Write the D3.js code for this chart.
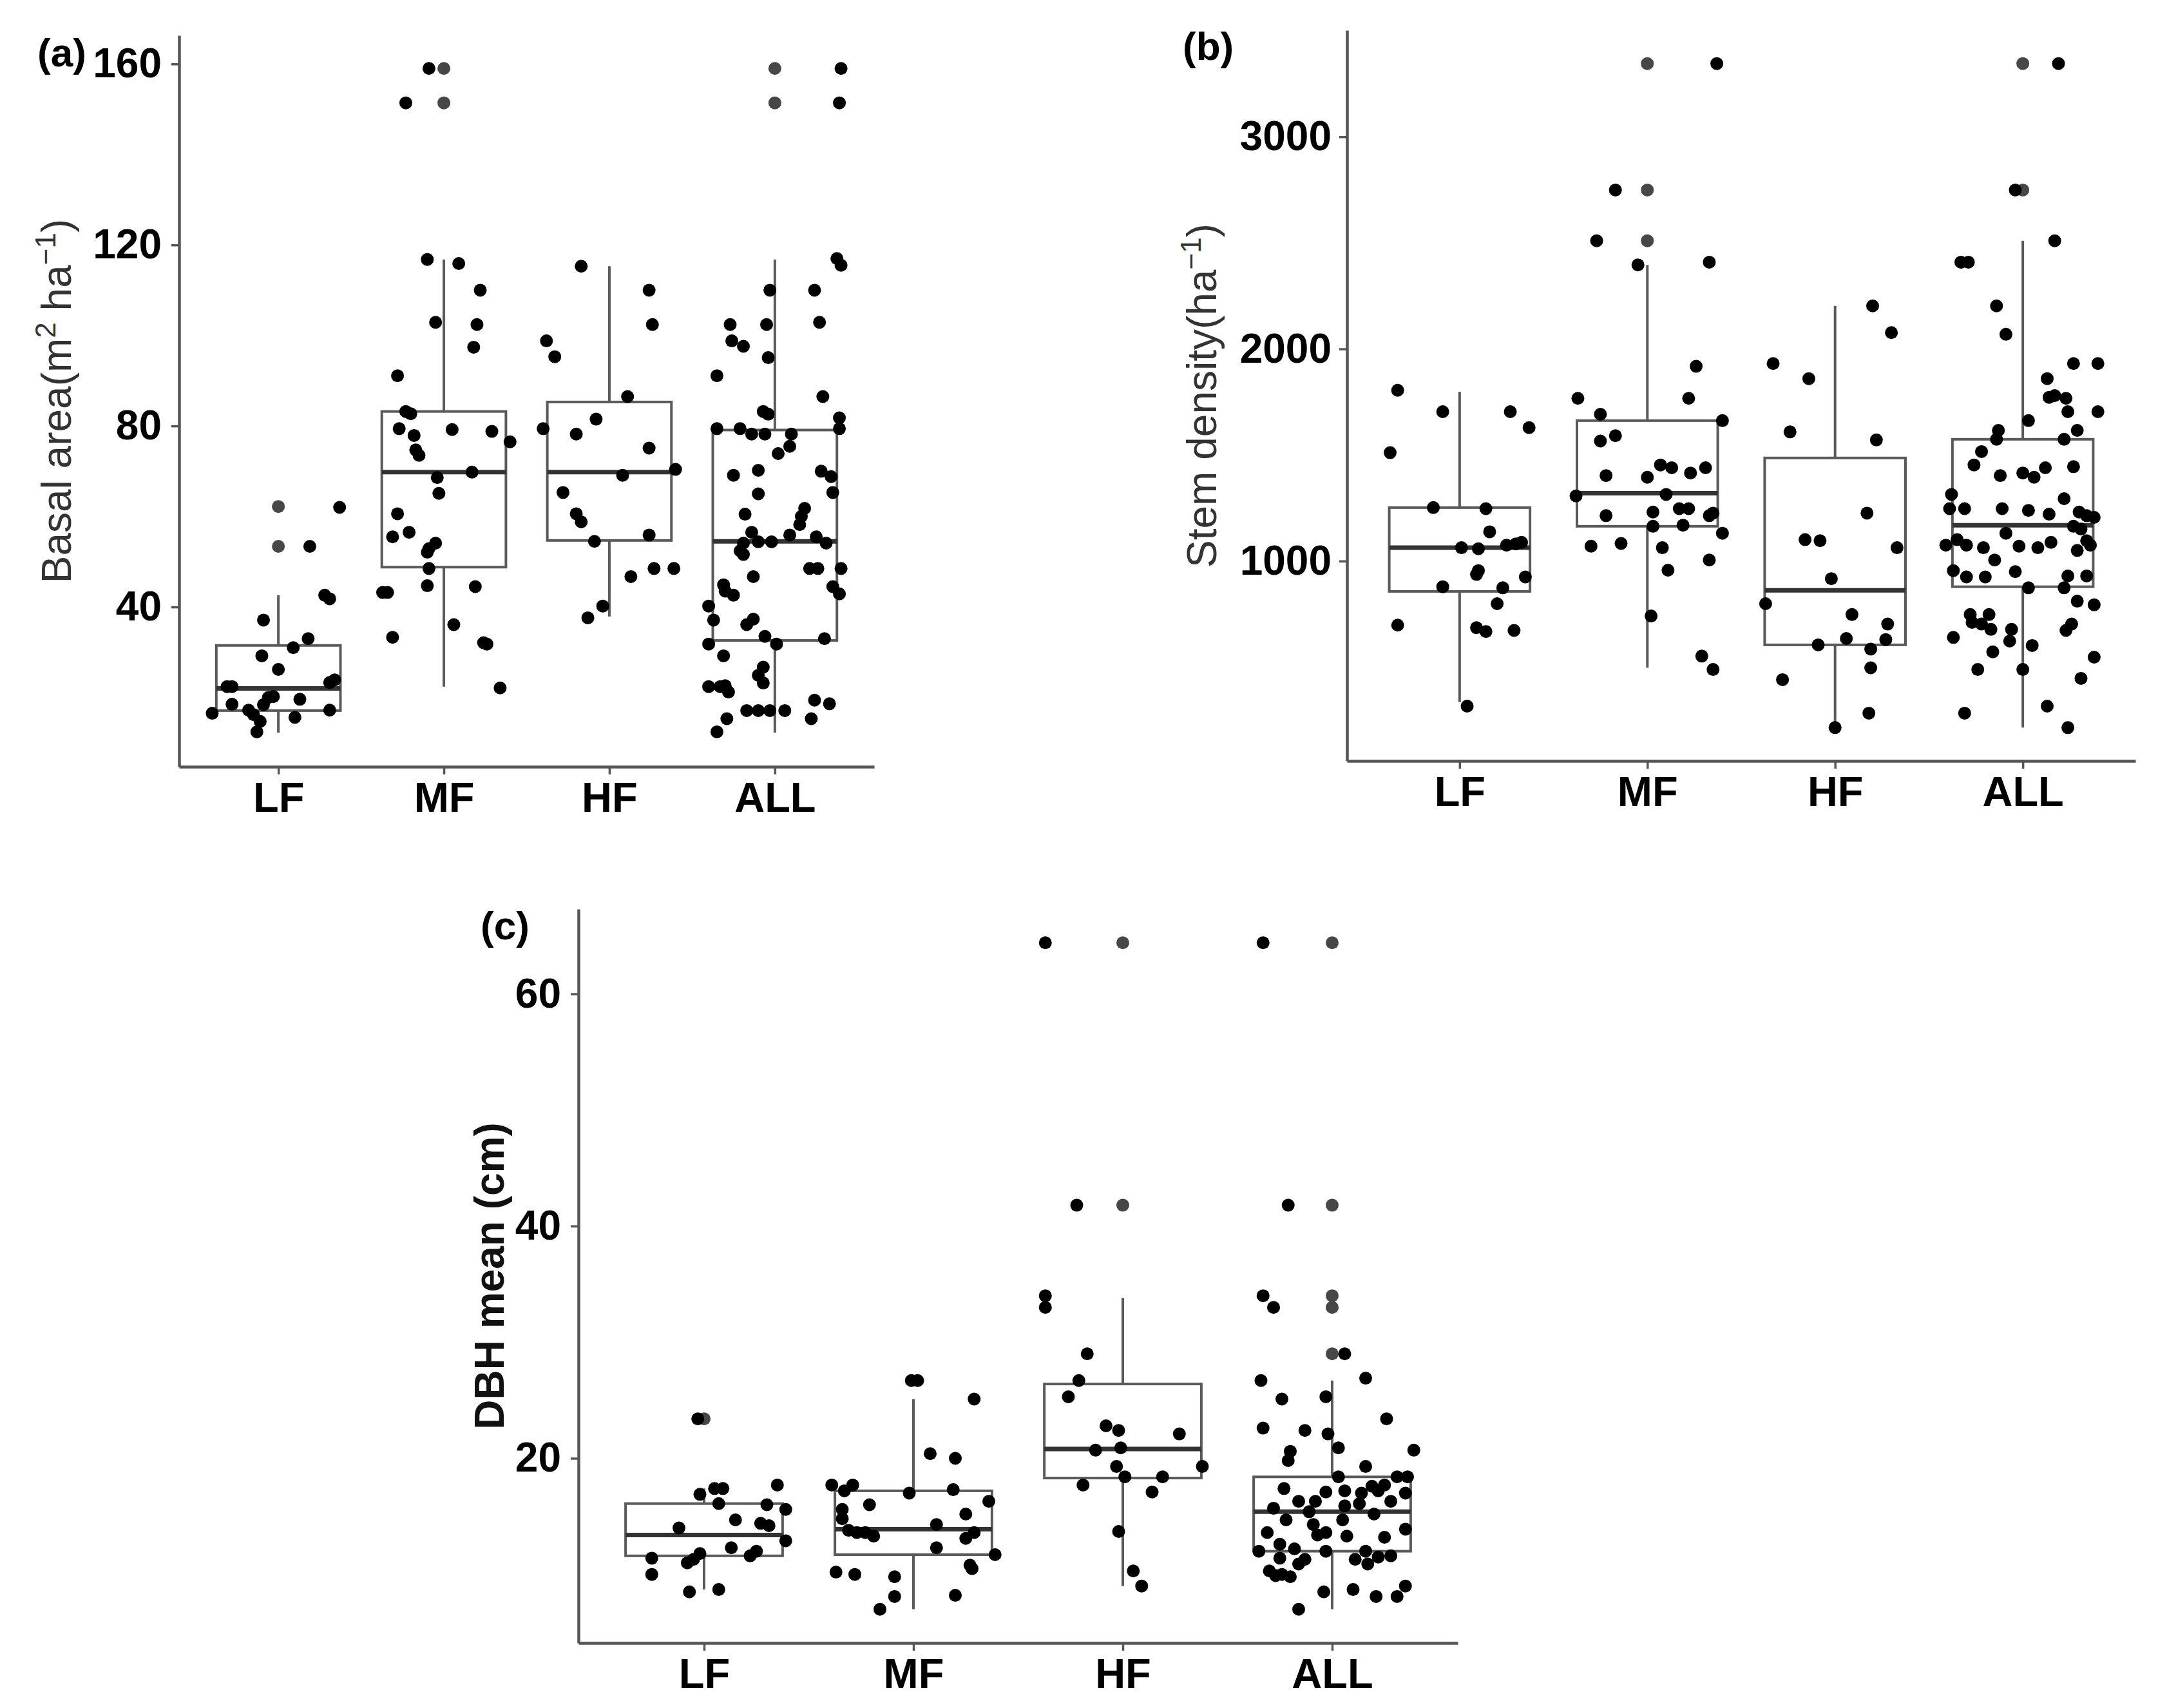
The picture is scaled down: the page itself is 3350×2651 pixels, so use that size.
<!DOCTYPE html>
<html>
<head>
<meta charset="utf-8">
<script src="https://cdn.jsdelivr.net/npm/d3@7"></script>
<style>
  body { margin: 0; background: #fff; }
  svg text { font-family: "Liberation Sans", Arial, sans-serif; }
</style>
</head>
<body>
<svg id="chart" width="3350" height="2651"></svg>
<script>
// categories on every panel
var cats = ["LF", "MF", "HF", "ALL"];

// box stats per category: [lower whisker, q1, median, q3, upper whisker]
var basalBox = [[12.2, 17.1, 22.0, 31.5, 42.6], [22.4, 48.8, 69.8, 83.2, 116.8], [37.9, 54.7, 69.8, 85.3, 115.3], [12.2, 32.6, 54.5, 79.1, 116.8]];
var stemBox = [[335, 857, 1063, 1252, 1798], [497, 1164, 1320, 1662, 2396], [215, 605, 862, 1486, 2203], [215, 879, 1169, 1574, 2510]];
var dbhBox = [[8.7, 11.6, 13.4, 16.1, 17.4], [7.0, 11.7, 13.9, 17.2, 25.1], [9.0, 18.3, 20.8, 26.4, 33.8], [7.0, 12.0, 15.4, 18.4, 26.7]];

// boxplot outliers (drawn at the category centre)
var basalOut = [[62.2, 53.4], [159, 151.4], [], [159, 151.4]];
var stemOut = [[], [3345, 2749, 2510], [], [3345, 2749]];
var dbhOut = [[23.4], [], [64.4, 41.8], [64.4, 41.8, 34.0, 33.0, 29.0]];

// jittered plots: [value, horizontal jitter in category steps]
var basalLF = [[62, .37], [53.4, .19], [42.6, .28], [41.8, .31], [37.1, -.09], [33, .18], [31, .09], [29.2, -.10], [26.2, 0], [23.9, .34], [23.3, .31], [22.4, -.31], [22.4, -.28], [18.5, -.28], [20.2, -.03], [20, -.06], [19.6, .13], [16.5, -.40], [17.2, -.18], [16.2, -.15], [18.4, -.09], [15.6, .10], [17.2, .31], [12.4, -.13], [14.7, -.11]];
var basalMF = [[159, -.09], [151.4, -.23], [116.8, -.10], [115.9, .09], [110, .22], [102.9, -.05], [102.4, .20], [97.4, .18], [91.1, -.28], [82.7, -.20], [83.2, -.23], [79.4, -.27], [79.2, .05], [78.8, .29], [77.9, -.18], [76.5, .40], [74.7, -.17], [73.5, -.15], [68.6, -.04], [69.8, .17], [65.1, -.03], [60.6, -.28], [55.5, -.31], [56.5, -.21], [54.1, -.05], [52.1, -.10], [52.9, -.09], [48.5, -.09], [44.7, -.10], [44.5, .19], [43.2, -.37], [43.2, -.34], [33.3, -.31], [36.1, .06], [32.1, .24], [31.8, .26], [22.1, .34]];
var basalHF = [[115.3, -.17], [110, .24], [102.4, .26], [98.8, -.38], [95.3, -.33], [86.5, .11], [81.5, -.08], [79.4, -.40], [78.2, -.20], [75.1, .24], [70.4, .40], [69.1, .08], [65.3, -.28], [60.6, -.20], [58.8, -.17], [54.5, -.09], [55.9, .24], [46.7, .13], [48.5, .27], [48.5, .39], [40.2, -.04], [37.6, -.13]];
var basalALL = [[159, .40], [151.4, .39], [117, .375], [115.5, .40], [110, -.03], [110, .24], [102.4, -.27], [102.4, -.05], [102.9, .27], [98.8, -.26], [97.6, -.19], [95.1, -.04], [91.1, -.35], [86.5, .29], [83.2, -.07], [82.6, -.04], [81.8, .39], [79.4, -.35], [79.4, -.21], [79.4, .39], [78.2, -.14], [78.2, -.06], [78.2, .10], [75.5, .09], [73.9, .02], [70.2, -.10], [70, .28], [69.1, -.25], [68.8, .34], [65.3, .35], [65, -.10], [61.8, .18], [60, .16], [60.5, -.18], [58.2, .15], [56.5, -.14], [55.9, .09], [55.5, .25], [54.1, -.19], [54.4, -.10], [54.4, -.02], [54.1, .31], [52.4, -.21], [51.6, -.19], [48.5, .26], [48.5, .21], [48.5, .40], [46.7, -.13], [44.9, -.31], [43.5, -.30], [42.6, -.25], [44.5, .35], [42.9, .39], [40.2, -.40], [37.1, -.37], [37.3, -.13], [36.1, -.17], [33.5, -.06], [33, .30], [31.8, -.40], [31.8, .01], [29.2, -.31], [26.7, -.07], [24.9, -.10], [23.2, -.07], [22.4, -.40], [22.4, -.33], [21.2, -.28], [22.6, -.30], [19.4, .24], [18.6, .33], [15.3, .22], [17.1, -.17], [17.1, -.10], [17.1, -.03], [17.1, .06], [15.3, -.29], [12.4, -.35]];

var stemLF = [[1805, -.33], [1511, -.37], [1704, -.09], [1704, .27], [1629, .37], [1252, -.14], [1247, .14], [1138, .16], [1063, .01], [1058, .10], [1075, .25], [1081, .30], [1088, .33], [955, .10], [937, .09], [925, .35], [879, -.09], [874, .23], [799, .20], [698, -.33], [686, .09], [668, .14], [673, .29], [316, .04]];
var stemMF = [[3345, .37], [2749, -.17], [2510, -.27], [2396, -.05], [2409, .33], [1918, .26], [1767, -.37], [1767, .22], [1692, -.25], [1662, .40], [1591, -.17], [1566, -.25], [1403, -.22], [1395, 0], [1453, .07], [1440, .13], [1415, .23], [1440, .31], [1307, -.38], [1314, .10], [1231, .03], [1247, .17], [1247, .22], [1214, -.22], [1214, .33], [1226, .35], [1164, .03], [1169, .19], [1131, .40], [1070, -.30], [1083, -.14], [1063, .08], [1005, .33], [957, .11], [741, .02], [552, .29], [489, .35]];
var stemHF = [[2203, .20], [2077, .30], [1931, -.33], [1860, -.14], [1609, -.24], [1571, .22], [1226, .17], [1101, -.16], [1096, -.08], [1063, .33], [917, -.02], [799, -.37], [748, .09], [703, .28], [635, .06], [605, -.09], [630, .27], [585, .19], [497, .19], [441, -.28], [283, .18], [215, 0]];
var stemALL = [[3345, .19], [2749, -.04], [2510, .17], [2409, -.33], [2409, -.29], [2203, -.14], [2069, -.09], [1931, .27], [1931, .40], [1860, .13], [1780, .17], [1767, .23], [1772, .14], [1704, .24], [1704, .40], [1662, .03], [1616, -.13], [1616, .29], [1574, -.14], [1574, .22], [1516, -.22], [1453, -.26], [1403, -.12], [1415, 0], [1395, .06], [1440, .12], [1445, .27], [1314, -.38], [1294, .22], [1247, -.31], [1247, -.39], [1247, -.11], [1239, .03], [1221, .14], [1231, .30], [1214, .34], [1206, .38], [1164, .27], [1151, .31], [1131, -.09], [1101, -.35], [1075, -.30], [1063, -.21], [1075, -.41], [1070, -.02], [1088, .15], [1063, .08], [1075, .36], [1096, .34], [1050, .29], [1005, -.15], [955, -.37], [950, -.04], [925, -.30], [925, -.20], [930, .24], [930, .34], [874, .03], [874, .22], [811, .29], [794, .38], [748, -.28], [748, -.18], [711, -.27], [703, -.22], [678, -.17], [678, -.06], [703, .26], [673, .23], [640, -.37], [623, -.07], [602, .05], [572, -.16], [489, -.24], [489, 0], [547, .38], [447, .31], [283, -.31], [316, .13], [215, .24]];

var dbhLF = [[23.4, -.03], [17.7, .35], [17.4, .05], [17.4, .09], [16.9, -.02], [16.1, .07], [16.0, .30], [15.6, .39], [14.7, .15], [14.4, .27], [14.2, .31], [14.0, -.12], [12.9, .39], [12.3, .13], [12.0, .25], [11.6, .22], [11.8, -.02], [11.4, -.25], [11.0, -.08], [11.3, -.05], [10.0, -.25], [8.5, -.07], [8.7, .07]];
var dbhMF = [[26.7, -.01], [26.7, .02], [25.1, .29], [20.4, .08], [20.0, .20], [17.7, -.39], [17.7, -.29], [17.2, -.33], [17.0, -.02], [17.3, .19], [16.3, .36], [15.6, -.34], [16.0, -.21], [15.2, .25], [14.3, .11], [14.8, -.34], [13.8, -.31], [13.6, -.27], [13.3, -.19], [13.6, -.23], [13.6, .29], [13.1, .25], [12.3, .11], [11.7, .39], [10.8, .27], [10.5, .28], [10.2, -.37], [10.0, -.28], [9.8, -.09], [8.1, -.09], [8.2, .20], [7.0, -.16]];
var dbhHF = [[64.4, -.37], [41.8, -.22], [34.0, -.37], [33.0, -.37], [29.0, -.17], [26.7, -.21], [25.3, -.26], [22.8, -.08], [22.4, -.02], [22.1, .27], [20.7, -.13], [20.9, -.01], [19.3, .38], [19.3, -.03], [18.4, .19], [18.4, .01], [17.7, -.19], [17.1, .14], [13.7, -.02], [10.3, .05], [9.0, .09]];
var dbhALL = [[64.4, -.33], [41.8, -.21], [34.0, -.33], [33.0, -.28], [29.0, .06], [26.7, -.34], [26.9, .16], [25.3, -.03], [25.1, -.24], [23.4, .26], [22.6, -.33], [22.4, -.13], [22.1, -.02], [20.7, .39], [20.9, .03], [20.6, -.20], [19.8, -.21], [19.3, .16], [18.4, .03], [18.4, .31], [18.4, .36], [17.4, -.23], [17.1, -.03], [17.2, .06], [17.6, .19], [17.2, .22], [17.7, .25], [17.0, .14], [17.0, .35], [16.3, -.16], [16.3, -.08], [15.9, .06], [16.1, .13], [16.3, .28], [15.7, -.28], [14.7, .05], [14.7, -.22], [15.4, -.11], [15.2, .20], [14.3, -.09], [13.6, -.31], [13.6, -.03], [13.3, .07], [13.2, .25], [13.9, .35], [13.4, -.07], [12.6, -.25], [12.2, -.18], [12.0, -.35], [12.0, -.03], [12.0, .16], [11.5, .22], [11.3, .11], [10.9, .17], [11.4, -.25], [11.3, -.13], [11.6, .28], [10.9, -.16], [10.3, -.30], [10.0, -.24], [9.8, -.20], [9.9, -.27], [8.7, .10], [8.5, -.04], [8.1, .21], [8.1, .31], [9.0, .35], [7.0, -.16]];

// y tick values
var basalTicks = [40, 80, 120, 160];
var stemTicks = [1000, 2000, 3000];
var dbhTicks = [20, 40, 60];

var svg = d3.select("#chart");

function drawPanel(p) {
  var x = d3.scalePoint().domain(cats).range([p.left, p.right]).padding(0.6);
  var y = d3.scaleLinear().domain(p.domain).range([p.bottom, p.top]);
  var step = x.step();
  var hw = step * 0.375;
  var g = svg.append("g");

  // boxes
  var box = g.selectAll(".box").data(p.box).enter().append("g");
  box.append("line")
    .attr("x1", function(d, i) { return x(cats[i]); })
    .attr("x2", function(d, i) { return x(cats[i]); })
    .attr("y1", function(d) { return y(d[3]); })
    .attr("y2", function(d) { return y(d[4]); })
    .attr("stroke", "#5a5a5a").attr("stroke-width", 4);
  box.append("line")
    .attr("x1", function(d, i) { return x(cats[i]); })
    .attr("x2", function(d, i) { return x(cats[i]); })
    .attr("y1", function(d) { return y(d[1]); })
    .attr("y2", function(d) { return y(d[0]); })
    .attr("stroke", "#5a5a5a").attr("stroke-width", 4);
  box.append("rect")
    .attr("x", function(d, i) { return x(cats[i]) - hw; })
    .attr("width", hw * 2)
    .attr("y", function(d) { return y(d[3]); })
    .attr("height", function(d) { return y(d[1]) - y(d[3]); })
    .attr("fill", "#fff").attr("stroke", "#5a5a5a").attr("stroke-width", 4);
  box.append("line")
    .attr("x1", function(d, i) { return x(cats[i]) - hw; })
    .attr("x2", function(d, i) { return x(cats[i]) + hw; })
    .attr("y1", function(d) { return y(d[2]); })
    .attr("y2", function(d) { return y(d[2]); })
    .attr("stroke", "#333").attr("stroke-width", 7);

  // outliers
  p.out.forEach(function(vals, i) {
    g.selectAll(null).data(vals).enter().append("circle")
      .attr("cx", x(cats[i]))
      .attr("cy", function(d) { return y(d); })
      .attr("r", 10).attr("fill", "#474747");
  });

  // jittered points
  p.pts.forEach(function(arr, i) {
    g.selectAll(null).data(arr).enter().append("circle")
      .attr("cx", function(d) { return x(cats[i]) + d[1] * step; })
      .attr("cy", function(d) { return y(d[0]); })
      .attr("r", 10).attr("fill", "#000");
  });

  // axes
  var ya = g.append("g").attr("transform", "translate(" + p.left + ",0)")
    .call(d3.axisLeft(y).tickValues(p.ticks).tickFormat(d3.format("d"))
      .tickSize(12).tickSizeOuter(0).tickPadding(p.tickPad));
  var xa = g.append("g").attr("transform", "translate(0," + p.bottom + ")")
    .call(d3.axisBottom(x).tickSize(12).tickSizeOuter(0).tickPadding(12));
  [ya, xa].forEach(function(a) {
    a.select(".domain").attr("stroke", "#555").attr("stroke-width", 4.5);
    a.selectAll(".tick line").attr("stroke", "#555").attr("stroke-width", 3.5);
  });
  ya.selectAll("text").attr("font-size", 64).attr("font-weight", "bold").attr("fill", "#000")
    .attr("font-family", "Liberation Sans, Arial, sans-serif");
  xa.selectAll("text").attr("font-size", 65).attr("font-weight", "bold").attr("fill", "#000")
    .attr("font-family", "Liberation Sans, Arial, sans-serif");

  // axis title
  var t = g.append("text")
    .attr("transform", "translate(" + p.titleX + "," + ((p.top + p.bottom) / 2) + ") rotate(-90)")
    .attr("text-anchor", "middle")
    .attr("font-size", 64)
    .attr("font-weight", p.titleBold ? "bold" : "normal")
    .attr("fill", p.titleBold ? "#111" : "#333");
  p.title.forEach(function(part) {
    var s = t.append("tspan").text(part.t);
    if (part.sup) s.attr("font-size", 44).attr("dy", -24);
    if (part.back) s.attr("dy", 24);
  });

  // panel label
  g.append("text").attr("x", p.labX).attr("y", p.labY)
    .attr("font-size", 62).attr("font-weight", "bold").attr("fill", "#000")
    .text(p.label);
}

drawPanel({
  left: 278, right: 1357, top: 55, bottom: 1190,
  domain: [4.7, 166.3], ticks: basalTicks, tickPad: 15,
  box: basalBox, out: basalOut, pts: [basalLF, basalMF, basalHF, basalALL],
  title: [{t: "Basal area(m"}, {t: "2", sup: true}, {t: " ha", back: true}, {t: "\u22121", sup: true}, {t: ")", back: true}],
  titleX: 110, titleBold: false,
  label: "(a)", labX: 58, labY: 103
});

drawPanel({
  left: 2091, right: 3315, top: 47, bottom: 1181,
  domain: [58, 3502], ticks: stemTicks, tickPad: 12,
  box: stemBox, out: stemOut, pts: [stemLF, stemMF, stemHF, stemALL],
  title: [{t: "Stem density(ha"}, {t: "\u22121", sup: true}, {t: ")", back: true}],
  titleX: 1888, titleBold: false,
  label: "(b)", labX: 1836, labY: 93
});

drawPanel({
  left: 898, right: 2263, top: 1411, bottom: 2550,
  domain: [4.1, 67.3], ticks: dbhTicks, tickPad: 15,
  box: dbhBox, out: dbhOut, pts: [dbhLF, dbhMF, dbhHF, dbhALL],
  title: [{t: "DBH mean (cm)"}],
  titleX: 782, titleBold: true,
  label: "(c)", labX: 746, labY: 1458
});
</script>
</body>
</html>
